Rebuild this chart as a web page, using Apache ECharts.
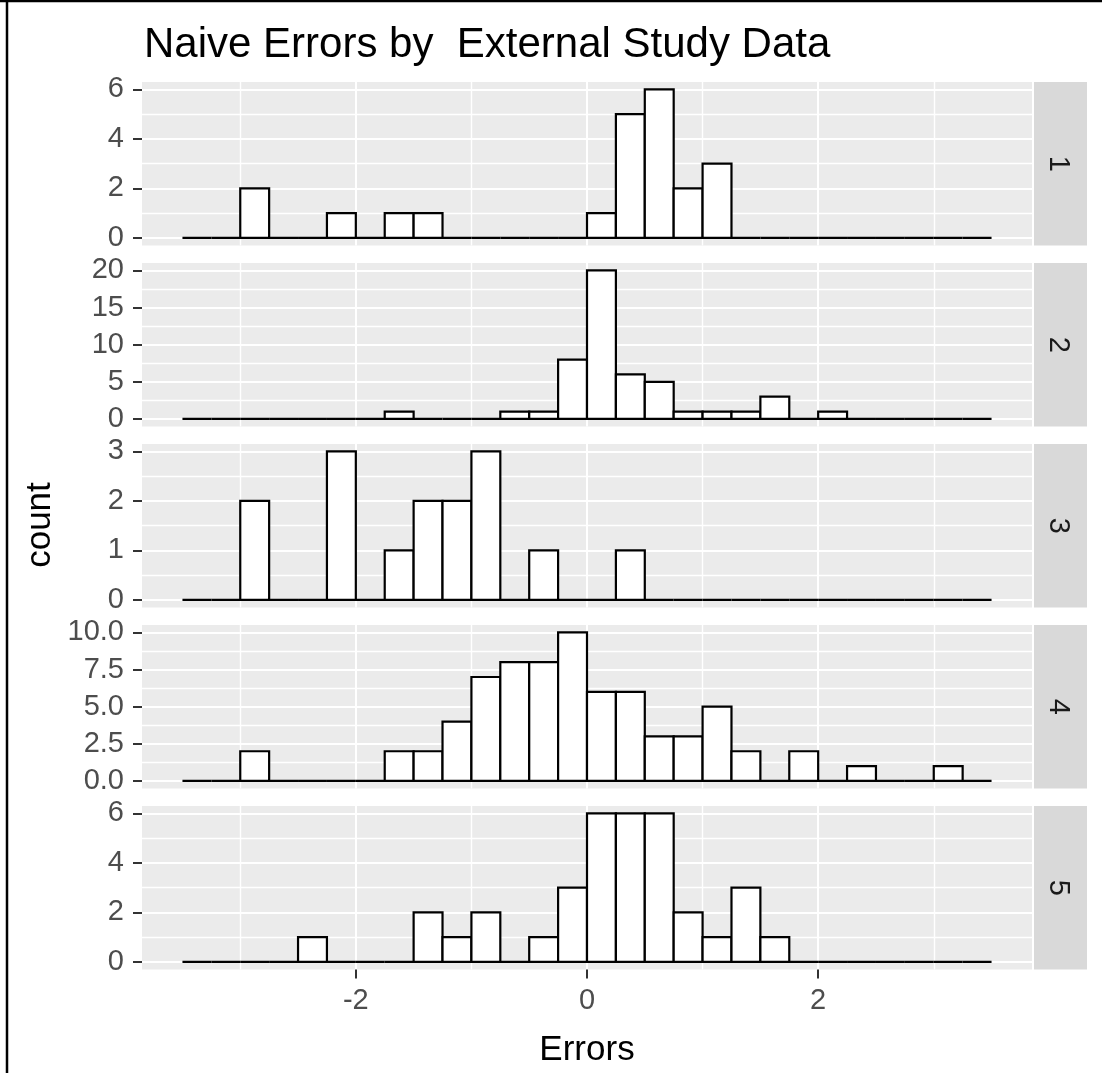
<!DOCTYPE html>
<html>
<head>
<meta charset="utf-8">
<title>Naive Errors by External Study Data</title>
<script src="https://cdn.jsdelivr.net/npm/echarts@6/dist/echarts.min.js"></script>
<style>
  html, body { margin: 0; padding: 0; background: #ffffff; }
  #chart { width: 1102px; height: 1073px; }
</style>
</head>
<body>
<div id="chart"></div>
<script>
// histogram: 28 bins of width 0.25 from -3.5 to 3.5
const binStart = -3.5;
const binWidth = 0.25;
const groups = ['1', '2', '3', '4', '5'];

const counts1 = [0, 0, 2, 0, 0, 1, 0, 1, 1, 0, 0, 0, 0, 0, 1, 5, 6, 2, 3, 0, 0, 0, 0, 0, 0, 0, 0, 0];
const counts2 = [0, 0, 0, 0, 0, 0, 0, 1, 0, 0, 0, 1, 1, 8, 20, 6, 5, 1, 1, 1, 3, 0, 1, 0, 0, 0, 0, 0];
const counts3 = [0, 0, 2, 0, 0, 3, 0, 1, 2, 2, 3, 0, 1, 0, 0, 1, 0, 0, 0, 0, 0, 0, 0, 0, 0, 0, 0, 0];
const counts4 = [0, 0, 2, 0, 0, 0, 0, 2, 2, 4, 7, 8, 8, 10, 6, 6, 3, 3, 5, 2, 0, 2, 0, 1, 0, 0, 1, 0];
const counts5 = [0, 0, 0, 0, 1, 0, 0, 0, 2, 1, 2, 0, 1, 3, 6, 6, 6, 2, 1, 3, 1, 0, 0, 0, 0, 0, 0, 0];

// axis ticks
const xTicks = [-2, 0, 2];
const xMinor = [-3, -1, 1, 3];
const yTicks1 = [0, 2, 4, 6];
const yMinor1 = [1, 3, 5];
const yTicks2 = [0, 5, 10, 15, 20];
const yMinor2 = [2.5, 7.5, 12.5, 17.5];
const yTicks3 = [0, 1, 2, 3];
const yMinor3 = [0.5, 1.5, 2.5];
const yTicks4 = [0, 2.5, 5, 7.5, 10];
const yMinor4 = [1.25, 3.75, 6.25, 8.75];
const yTicks5 = [0, 2, 4, 6];
const yMinor5 = [1, 3, 5];

const allCounts = [counts1, counts2, counts3, counts4, counts5];
const allTicks = [yTicks1, yTicks2, yTicks3, yTicks4, yTicks5];
const allMinor = [yMinor1, yMinor2, yMinor3, yMinor4, yMinor5];
const labelDigits = [0, 0, 0, 1, 0];

const font = "'Liberation Sans', Arial, sans-serif";
const panelLeft = 142;
const panelWidth = 890;
const panelTop = 82;
const panelHeight = 163.4;
const panelGap = 17.6;
const xMin = -3.85, xMax = 3.85;

function renderBin(params, api) {
    const p0 = api.coord([api.value(0), api.value(2)]);
    const p1 = api.coord([api.value(1), 0]);
    return {
        type: 'rect',
        shape: { x: p0[0], y: p0[1], width: p1[0] - p0[0], height: p1[1] - p0[1] },
        style: { fill: '#ffffff', stroke: '#000000', lineWidth: 2.2 }
    };
}

const grid = [], xAxis = [], yAxis = [], series = [], graphic = [];

groups.forEach(function (g, i) {
    const top = panelTop + i * (panelHeight + panelGap);
    const ticks = allTicks[i];
    const yTop = ticks[ticks.length - 1];
    const bottom = i === groups.length - 1;

    grid.push({
        left: panelLeft, top: top, width: panelWidth, height: panelHeight,
        show: true, backgroundColor: '#EBEBEB', borderWidth: 0
    });

    xAxis.push({
        type: 'value', gridIndex: i, min: xMin, max: xMax, position: 'bottom',
        axisLine: { show: false, onZero: false },
        axisTick: { show: bottom, customValues: xTicks, length: 9, lineStyle: { color: '#333333', width: 2 } },
        axisLabel: { show: bottom, customValues: xTicks, margin: 17, fontSize: 29, color: '#4D4D4D', fontFamily: font },
        splitLine: { show: true, lineStyle: { color: '#ffffff', width: 2 } }
    });
    xAxis.push({
        type: 'value', gridIndex: i, min: xMin, max: xMax, position: 'top',
        axisLine: { show: false, onZero: false },
        axisTick: { show: false, customValues: xMinor },
        axisLabel: { show: false },
        splitLine: { show: true, lineStyle: { color: '#ffffff', width: 1.4 } }
    });

    yAxis.push({
        type: 'value', gridIndex: i, min: -0.05 * yTop, max: 1.05 * yTop, position: 'left',
        axisLine: { show: false, onZero: false },
        axisTick: { show: true, customValues: ticks, length: 9, lineStyle: { color: '#333333', width: 2 } },
        axisLabel: {
            customValues: ticks, margin: 18, fontSize: 29, color: '#4D4D4D', fontFamily: font,
            formatter: function (v) { return v.toFixed(labelDigits[i]); }
        },
        splitLine: { show: true, lineStyle: { color: '#ffffff', width: 2 } }
    });
    yAxis.push({
        type: 'value', gridIndex: i, min: -0.05 * yTop, max: 1.05 * yTop, position: 'right',
        axisLine: { show: false, onZero: false },
        axisTick: { show: false, customValues: allMinor[i] },
        axisLabel: { show: false },
        splitLine: { show: true, lineStyle: { color: '#ffffff', width: 1.4 } }
    });

    series.push({
        type: 'custom',
        name: g,
        xAxisIndex: 2 * i,
        yAxisIndex: 2 * i,
        renderItem: renderBin,
        encode: { x: [0, 1], y: 2 },
        data: allCounts[i].map(function (c, k) {
            return [binStart + k * binWidth, binStart + (k + 1) * binWidth, c];
        })
    });

    // facet strip on the right
    graphic.push({
        type: 'rect',
        shape: { x: 1034, y: top, width: 53, height: panelHeight },
        style: { fill: '#D9D9D9' }
    });
    graphic.push({
        type: 'text',
        x: 1058, y: top + panelHeight / 2,
        rotation: -Math.PI / 2,
        style: { text: g, fontSize: 29, fill: '#1A1A1A', fontFamily: font, align: 'center', verticalAlign: 'middle' }
    });
});

// axis titles
graphic.push({
    type: 'text', x: 587, y: 1050,
    style: { text: 'Errors', fontSize: 35, fill: '#000000', fontFamily: font, align: 'center', verticalAlign: 'middle' }
});
graphic.push({
    type: 'text', x: 40, y: 525,
    rotation: Math.PI / 2,
    style: { text: 'count', fontSize: 35, fill: '#000000', fontFamily: font, align: 'center', verticalAlign: 'middle' }
});
// outer frame of the screenshot
graphic.push({ type: 'line', shape: { x1: 7, y1: 0, x2: 7, y2: 1073 }, style: { stroke: '#000000', lineWidth: 2.5 } });
graphic.push({ type: 'line', shape: { x1: 0, y1: 1, x2: 1102, y2: 1 }, style: { stroke: '#000000', lineWidth: 2.5 } });

const chart = echarts.init(document.getElementById('chart'), null, { renderer: 'canvas' });
chart.setOption({
    animation: false,
    backgroundColor: '#ffffff',
    title: {
        text: 'Naive Errors by  External Study Data',
        left: 139, top: 19,
        textStyle: { fontSize: 42, fontWeight: 'normal', color: '#000000', fontFamily: font }
    },
    grid: grid,
    xAxis: xAxis,
    yAxis: yAxis,
    series: series,
    graphic: graphic
});
</script>
</body>
</html>
